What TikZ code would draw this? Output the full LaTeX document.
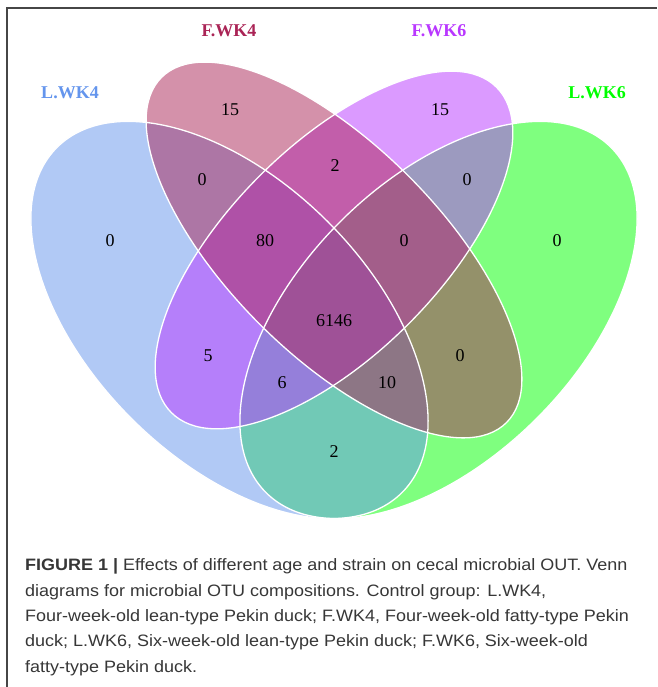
\documentclass[tikz,border=0pt]{standalone}
\usepackage{fontspec}
\setmainfont{Liberation Serif}
\newfontfamily\capfont{Liberation Sans}
\definecolor{cLfour}{RGB}{100,149,237}
\definecolor{cLsix}{RGB}{0,255,0}
\definecolor{cFfour}{RGB}{170,36,86}
\definecolor{cFsix}{RGB}{185,55,255}
\definecolor{captxt}{RGB}{55,55,55}
\definecolor{framecol}{RGB}{70,70,70}
\begin{document}
\begin{tikzpicture}[x=1pt,y=1pt,
  setfill/.style={fill=#1, fill opacity=0.5},
  setline/.style={draw=white, line width=1.3pt},
  num/.style={font=\fontsize{18}{18}\selectfont, text=black, inner sep=0pt},
  setlabel/.style={font=\fontsize{18}{18}\selectfont\bfseries, text=#1, inner sep=0pt},
  capline/.style={font=\capfont\fontsize{16.5}{16.5}\selectfont, text=captxt, anchor=base west, inner sep=0pt, xscale=1.09, transform shape}]
\useasboundingbox (0,0) rectangle (657,687);
\fill[white] (0,0) rectangle (657,687);
% centres of the four ellipses
\coordinate (cL4) at (229.5,367);
\coordinate (cL6) at (438.5,367);
\coordinate (cF) at (334,437);
% fills (drawing order as in the original)
\fill[setfill=cLsix, rotate around={45:(cL6)}] (cL6) ellipse (244pt and 139pt);
\fill[setfill=cLfour, rotate around={135:(cL4)}] (cL4) ellipse (244pt and 139pt);
\fill[setfill=cFsix, rotate around={45:(cF)}] (cF) ellipse (230pt and 105pt);
\fill[setfill=cFfour, rotate around={135:(cF)}] (cF) ellipse (244pt and 105pt);
% white outlines
\draw[setline, rotate around={45:(cL6)}] (cL6) ellipse (244pt and 139pt);
\draw[setline, rotate around={135:(cL4)}] (cL4) ellipse (244pt and 139pt);
\draw[setline, rotate around={45:(cF)}] (cF) ellipse (230pt and 105pt);
\draw[setline, rotate around={135:(cF)}] (cF) ellipse (244pt and 105pt);
% set labels
\node[setlabel=cLfour] (lL4) at (70,594) {L.WK4};
\node[setlabel=cFfour] (lF4) at (229,656) {F.WK4};
\node[setlabel=cFsix] (lF6) at (439,656) {F.WK6};
\node[setlabel=cLsix] (lL6) at (597,594) {L.WK6};
% region counts
\node[num] (n1) at (110,446) {0};
\node[num] (n2) at (230,577) {15};
\node[num] (n3) at (440,577) {15};
\node[num] (n4) at (557,446) {0};
\node[num] (n5) at (202,507) {0};
\node[num] (n6) at (335,521) {2};
\node[num] (n7) at (467,507) {0};
\node[num] (n8) at (265,446) {80};
\node[num] (n9) at (404,446) {0};
\node[num] (n10) at (334,366) {6146};
\node[num] (n11) at (208,331) {5};
\node[num] (n12) at (460,331) {0};
\node[num] (n13) at (282,304) {6};
\node[num] (n14) at (387,304) {10};
\node[num] (n15) at (334,235) {2};
% frame
\draw[framecol, line width=1.5pt] (7,0) -- (7,679) -- (657,679);
% caption
\node[capline] (c1) at (25,116) {\textbf{FIGURE 1 |} Effects of different age and strain on cecal microbial OUT. Venn};
\node[capline] (c2) at (25,90.7) {diagrams for microbial OTU compositions. Control group: L.WK4,};
\node[capline] (c3) at (25,65.3) {Four-week-old lean-type Pekin duck; F.WK4, Four-week-old fatty-type Pekin};
\node[capline] (c4) at (25,40) {duck; L.WK6, Six-week-old lean-type Pekin duck; F.WK6, Six-week-old};
\node[capline] (c5) at (25,14.7) {fatty-type Pekin duck.};
\end{tikzpicture}
\end{document}
